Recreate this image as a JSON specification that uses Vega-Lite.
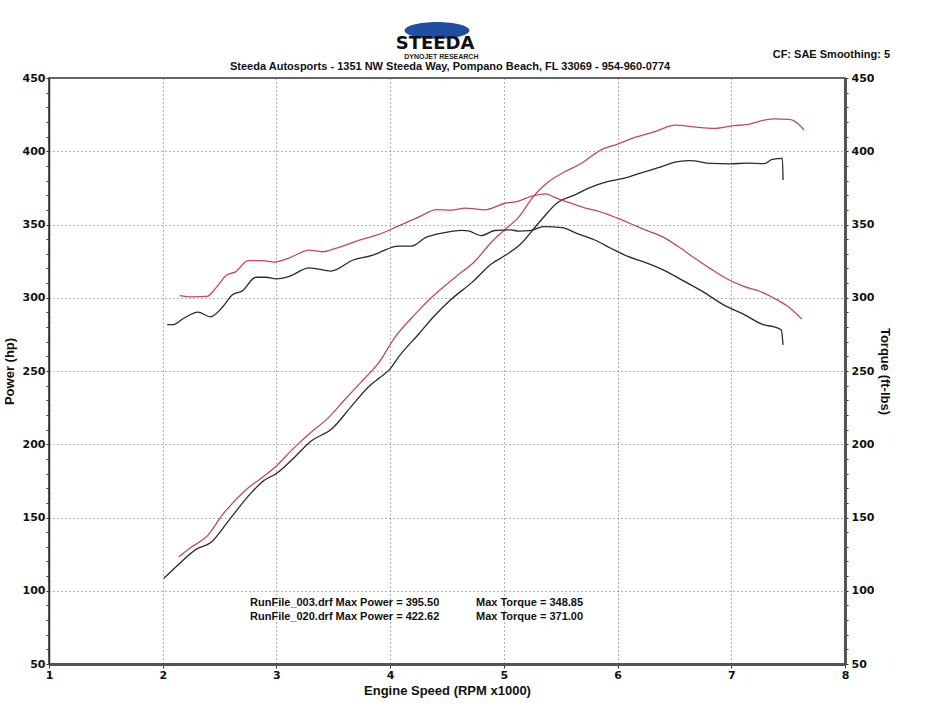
{
  "$schema": "https://vega.github.io/schema/vega-lite/v6.json",
  "description": "Steeda dyno sheet: power and torque for two run files",
  "width": 796,
  "height": 586,
  "autosize": {"type": "none"},
  "padding": {"left": 49, "top": 78, "right": 85, "bottom": 56},
  "background": "white",
  "datasets": {
    "dyno": [
      {"run": "003", "measure": "Power", "rpm": 2.01, "value": 108.5},
      {"run": "003", "measure": "Power", "rpm": 2.12, "value": 116.6},
      {"run": "003", "measure": "Power", "rpm": 2.3, "value": 128.6},
      {"run": "003", "measure": "Power", "rpm": 2.42, "value": 132.8},
      {"run": "003", "measure": "Power", "rpm": 2.59, "value": 148.9},
      {"run": "003", "measure": "Power", "rpm": 2.77, "value": 166.1},
      {"run": "003", "measure": "Power", "rpm": 2.89, "value": 175.3},
      {"run": "003", "measure": "Power", "rpm": 3.0, "value": 180},
      {"run": "003", "measure": "Power", "rpm": 3.15, "value": 190.4},
      {"run": "003", "measure": "Power", "rpm": 3.3, "value": 201.9},
      {"run": "003", "measure": "Power", "rpm": 3.49, "value": 210.7},
      {"run": "003", "measure": "Power", "rpm": 3.65, "value": 225},
      {"run": "003", "measure": "Power", "rpm": 3.82, "value": 239.9},
      {"run": "003", "measure": "Power", "rpm": 3.91, "value": 245.5},
      {"run": "003", "measure": "Power", "rpm": 4.0, "value": 251.5},
      {"run": "003", "measure": "Power", "rpm": 4.07, "value": 259.2},
      {"run": "003", "measure": "Power", "rpm": 4.25, "value": 275.1},
      {"run": "003", "measure": "Power", "rpm": 4.39, "value": 287.7},
      {"run": "003", "measure": "Power", "rpm": 4.54, "value": 299.1},
      {"run": "003", "measure": "Power", "rpm": 4.72, "value": 310.5},
      {"run": "003", "measure": "Power", "rpm": 4.89, "value": 323.1},
      {"run": "003", "measure": "Power", "rpm": 5.01, "value": 328.8},
      {"run": "003", "measure": "Power", "rpm": 5.15, "value": 336.9},
      {"run": "003", "measure": "Power", "rpm": 5.3, "value": 350.5},
      {"run": "003", "measure": "Power", "rpm": 5.48, "value": 365.4},
      {"run": "003", "measure": "Power", "rpm": 5.62, "value": 370},
      {"run": "003", "measure": "Power", "rpm": 5.74, "value": 374.6},
      {"run": "003", "measure": "Power", "rpm": 5.91, "value": 379.2},
      {"run": "003", "measure": "Power", "rpm": 6.06, "value": 381.6},
      {"run": "003", "measure": "Power", "rpm": 6.2, "value": 385.1},
      {"run": "003", "measure": "Power", "rpm": 6.35, "value": 388.6},
      {"run": "003", "measure": "Power", "rpm": 6.53, "value": 392.9},
      {"run": "003", "measure": "Power", "rpm": 6.64, "value": 393.6},
      {"run": "003", "measure": "Power", "rpm": 6.82, "value": 391.7},
      {"run": "003", "measure": "Power", "rpm": 6.99, "value": 391.4},
      {"run": "003", "measure": "Power", "rpm": 7.14, "value": 391.9},
      {"run": "003", "measure": "Power", "rpm": 7.29, "value": 391.5},
      {"run": "003", "measure": "Power", "rpm": 7.36, "value": 394.4},
      {"run": "003", "measure": "Power", "rpm": 7.45, "value": 395.2},
      {"run": "003", "measure": "Power", "rpm": 7.455, "value": 380.3},
      {"run": "020", "measure": "Power", "rpm": 2.14, "value": 123},
      {"run": "020", "measure": "Power", "rpm": 2.24, "value": 129.2},
      {"run": "020", "measure": "Power", "rpm": 2.39, "value": 137.3},
      {"run": "020", "measure": "Power", "rpm": 2.53, "value": 152.3},
      {"run": "020", "measure": "Power", "rpm": 2.74, "value": 169.5},
      {"run": "020", "measure": "Power", "rpm": 2.86, "value": 176.5},
      {"run": "020", "measure": "Power", "rpm": 2.99, "value": 184.5},
      {"run": "020", "measure": "Power", "rpm": 3.15, "value": 197.2},
      {"run": "020", "measure": "Power", "rpm": 3.33, "value": 209.9},
      {"run": "020", "measure": "Power", "rpm": 3.44, "value": 216.8},
      {"run": "020", "measure": "Power", "rpm": 3.59, "value": 229.5},
      {"run": "020", "measure": "Power", "rpm": 3.74, "value": 242.1},
      {"run": "020", "measure": "Power", "rpm": 3.9, "value": 255.7},
      {"run": "020", "measure": "Power", "rpm": 4.04, "value": 272.8},
      {"run": "020", "measure": "Power", "rpm": 4.22, "value": 288.8},
      {"run": "020", "measure": "Power", "rpm": 4.38, "value": 301.3},
      {"run": "020", "measure": "Power", "rpm": 4.57, "value": 313.9},
      {"run": "020", "measure": "Power", "rpm": 4.75, "value": 325.3},
      {"run": "020", "measure": "Power", "rpm": 4.89, "value": 337.9},
      {"run": "020", "measure": "Power", "rpm": 5.0, "value": 345.9},
      {"run": "020", "measure": "Power", "rpm": 5.13, "value": 355},
      {"run": "020", "measure": "Power", "rpm": 5.26, "value": 369.2},
      {"run": "020", "measure": "Power", "rpm": 5.39, "value": 379},
      {"run": "020", "measure": "Power", "rpm": 5.53, "value": 385.8},
      {"run": "020", "measure": "Power", "rpm": 5.68, "value": 391.6},
      {"run": "020", "measure": "Power", "rpm": 5.85, "value": 400.8},
      {"run": "020", "measure": "Power", "rpm": 6.0, "value": 404.8},
      {"run": "020", "measure": "Power", "rpm": 6.15, "value": 409.4},
      {"run": "020", "measure": "Power", "rpm": 6.32, "value": 413.2},
      {"run": "020", "measure": "Power", "rpm": 6.51, "value": 417.8},
      {"run": "020", "measure": "Power", "rpm": 6.67, "value": 416.6},
      {"run": "020", "measure": "Power", "rpm": 6.85, "value": 415.6},
      {"run": "020", "measure": "Power", "rpm": 7.02, "value": 417.5},
      {"run": "020", "measure": "Power", "rpm": 7.14, "value": 418.2},
      {"run": "020", "measure": "Power", "rpm": 7.26, "value": 420.7},
      {"run": "020", "measure": "Power", "rpm": 7.37, "value": 422.1},
      {"run": "020", "measure": "Power", "rpm": 7.51, "value": 421.8},
      {"run": "020", "measure": "Power", "rpm": 7.59, "value": 418.6},
      {"run": "020", "measure": "Power", "rpm": 7.64, "value": 414.5},
      {"run": "003", "measure": "Torque", "rpm": 2.04, "value": 281.6},
      {"run": "003", "measure": "Torque", "rpm": 2.09, "value": 281.6},
      {"run": "003", "measure": "Torque", "rpm": 2.175, "value": 285.5},
      {"run": "003", "measure": "Torque", "rpm": 2.31, "value": 290.2},
      {"run": "003", "measure": "Torque", "rpm": 2.42, "value": 287},
      {"run": "003", "measure": "Torque", "rpm": 2.53, "value": 294},
      {"run": "003", "measure": "Torque", "rpm": 2.61, "value": 301.8},
      {"run": "003", "measure": "Torque", "rpm": 2.7, "value": 304.7},
      {"run": "003", "measure": "Torque", "rpm": 2.82, "value": 314},
      {"run": "003", "measure": "Torque", "rpm": 2.91, "value": 314},
      {"run": "003", "measure": "Torque", "rpm": 3.0, "value": 312.9},
      {"run": "003", "measure": "Torque", "rpm": 3.11, "value": 314.5},
      {"run": "003", "measure": "Torque", "rpm": 3.29, "value": 320.4},
      {"run": "003", "measure": "Torque", "rpm": 3.48, "value": 318.2},
      {"run": "003", "measure": "Torque", "rpm": 3.67, "value": 325.6},
      {"run": "003", "measure": "Torque", "rpm": 3.84, "value": 328.9},
      {"run": "003", "measure": "Torque", "rpm": 3.9, "value": 330.7},
      {"run": "003", "measure": "Torque", "rpm": 4.07, "value": 335.3},
      {"run": "003", "measure": "Torque", "rpm": 4.19, "value": 335.3},
      {"run": "003", "measure": "Torque", "rpm": 4.31, "value": 341},
      {"run": "003", "measure": "Torque", "rpm": 4.48, "value": 344.5},
      {"run": "003", "measure": "Torque", "rpm": 4.63, "value": 346},
      {"run": "003", "measure": "Torque", "rpm": 4.69, "value": 345.6},
      {"run": "003", "measure": "Torque", "rpm": 4.8, "value": 342.4},
      {"run": "003", "measure": "Torque", "rpm": 4.92, "value": 345.9},
      {"run": "003", "measure": "Torque", "rpm": 5.06, "value": 346.3},
      {"run": "003", "measure": "Torque", "rpm": 5.13, "value": 345.5},
      {"run": "003", "measure": "Torque", "rpm": 5.23, "value": 345.8},
      {"run": "003", "measure": "Torque", "rpm": 5.35, "value": 348.5},
      {"run": "003", "measure": "Torque", "rpm": 5.51, "value": 347.8},
      {"run": "003", "measure": "Torque", "rpm": 5.64, "value": 344},
      {"run": "003", "measure": "Torque", "rpm": 5.8, "value": 339.4},
      {"run": "003", "measure": "Torque", "rpm": 5.94, "value": 333.8},
      {"run": "003", "measure": "Torque", "rpm": 6.09, "value": 328.2},
      {"run": "003", "measure": "Torque", "rpm": 6.23, "value": 324.5},
      {"run": "003", "measure": "Torque", "rpm": 6.41, "value": 318.7},
      {"run": "003", "measure": "Torque", "rpm": 6.58, "value": 311.5},
      {"run": "003", "measure": "Torque", "rpm": 6.76, "value": 303.7},
      {"run": "003", "measure": "Torque", "rpm": 6.94, "value": 294.8},
      {"run": "003", "measure": "Torque", "rpm": 7.11, "value": 288.7},
      {"run": "003", "measure": "Torque", "rpm": 7.29, "value": 281.4},
      {"run": "003", "measure": "Torque", "rpm": 7.37, "value": 280.3},
      {"run": "003", "measure": "Torque", "rpm": 7.44, "value": 278},
      {"run": "003", "measure": "Torque", "rpm": 7.455, "value": 267.8},
      {"run": "020", "measure": "Torque", "rpm": 2.15, "value": 301.5},
      {"run": "020", "measure": "Torque", "rpm": 2.26, "value": 300.6},
      {"run": "020", "measure": "Torque", "rpm": 2.39, "value": 300.9},
      {"run": "020", "measure": "Torque", "rpm": 2.47, "value": 306.9},
      {"run": "020", "measure": "Torque", "rpm": 2.56, "value": 315.4},
      {"run": "020", "measure": "Torque", "rpm": 2.64, "value": 317.7},
      {"run": "020", "measure": "Torque", "rpm": 2.75, "value": 325.3},
      {"run": "020", "measure": "Torque", "rpm": 2.88, "value": 325.4},
      {"run": "020", "measure": "Torque", "rpm": 2.98, "value": 324.3},
      {"run": "020", "measure": "Torque", "rpm": 3.11, "value": 327.1},
      {"run": "020", "measure": "Torque", "rpm": 3.29, "value": 332.5},
      {"run": "020", "measure": "Torque", "rpm": 3.4, "value": 331.4},
      {"run": "020", "measure": "Torque", "rpm": 3.52, "value": 333.7},
      {"run": "020", "measure": "Torque", "rpm": 3.73, "value": 339.3},
      {"run": "020", "measure": "Torque", "rpm": 3.9, "value": 343.2},
      {"run": "020", "measure": "Torque", "rpm": 4.07, "value": 348.9},
      {"run": "020", "measure": "Torque", "rpm": 4.25, "value": 355.1},
      {"run": "020", "measure": "Torque", "rpm": 4.41, "value": 360.2},
      {"run": "020", "measure": "Torque", "rpm": 4.54, "value": 359.8},
      {"run": "020", "measure": "Torque", "rpm": 4.66, "value": 361.2},
      {"run": "020", "measure": "Torque", "rpm": 4.83, "value": 360},
      {"run": "020", "measure": "Torque", "rpm": 5.01, "value": 364.5},
      {"run": "020", "measure": "Torque", "rpm": 5.13, "value": 366},
      {"run": "020", "measure": "Torque", "rpm": 5.24, "value": 369.2},
      {"run": "020", "measure": "Torque", "rpm": 5.37, "value": 370.9},
      {"run": "020", "measure": "Torque", "rpm": 5.44, "value": 368.7},
      {"run": "020", "measure": "Torque", "rpm": 5.56, "value": 365.3},
      {"run": "020", "measure": "Torque", "rpm": 5.71, "value": 361.4},
      {"run": "020", "measure": "Torque", "rpm": 5.85, "value": 358.7},
      {"run": "020", "measure": "Torque", "rpm": 6.0, "value": 354.3},
      {"run": "020", "measure": "Torque", "rpm": 6.15, "value": 349.4},
      {"run": "020", "measure": "Torque", "rpm": 6.26, "value": 345.8},
      {"run": "020", "measure": "Torque", "rpm": 6.41, "value": 341},
      {"run": "020", "measure": "Torque", "rpm": 6.53, "value": 335.1},
      {"run": "020", "measure": "Torque", "rpm": 6.67, "value": 327.5},
      {"run": "020", "measure": "Torque", "rpm": 6.82, "value": 319.7},
      {"run": "020", "measure": "Torque", "rpm": 6.96, "value": 313},
      {"run": "020", "measure": "Torque", "rpm": 7.11, "value": 307.8},
      {"run": "020", "measure": "Torque", "rpm": 7.26, "value": 304.1},
      {"run": "020", "measure": "Torque", "rpm": 7.37, "value": 300},
      {"run": "020", "measure": "Torque", "rpm": 7.49, "value": 294.5},
      {"run": "020", "measure": "Torque", "rpm": 7.62, "value": 285.5}
    ]
  },
  "data": {"name": "dyno"},
  "layer": [
    {
      "layer": [
        {
          "transform": [{"filter": "datum.measure === 'Power'"}],
          "mark": {"type": "line", "strokeWidth": 1.3, "interpolate": "monotone"},
          "encoding": {
            "x": {
              "field": "rpm",
              "type": "quantitative",
              "scale": {"domain": [1, 8], "nice": false, "zero": false},
              "axis": {
                "title": "Engine Speed (RPM x1000)",
                "tickCount": 40,
                "format": "d",
                "labelExpr": "datum.value % 1 === 0 ? datum.label : ''",
                "labelOverlap": false,
                "labelFlush": false,
                "tickSize": 4,
                "labelPadding": 1,
                "titlePadding": 4,
                "domainWidth": 3,
                "domainColor": "#555555",
                "grid": true,
                "gridOpacity": {"condition": {"test": "datum.value % 1 === 0 && datum.value > 1 && datum.value < 8", "value": 1}, "value": 0}
              }
            },
            "y": {
              "field": "value",
              "type": "quantitative",
              "scale": {"domain": [50, 450], "nice": false, "zero": false},
              "axis": {
                "title": "Power (hp)",
                "orient": "left",
                "tickCount": 45,
                "format": "d",
                "labelExpr": "datum.value % 50 === 0 ? datum.label : ''",
                "labelOverlap": false,
                "labelFlush": false,
                "tickSize": 3,
                "labelPadding": 1,
                "titlePadding": 6,
                "domainWidth": 1.5,
                "domainColor": "#333333",
                "grid": true,
                "gridOpacity": {"condition": {"test": "datum.value % 50 === 0 && datum.value > 50 && datum.value < 450", "value": 1}, "value": 0}
              }
            },
            "color": {
              "field": "run",
              "type": "nominal",
              "scale": {"domain": ["003", "020"], "range": ["#2b2b2b", "#c04a5c"]},
              "legend": null
            }
          }
        },
        {
          "data": {"values": [{}]},
          "mark": {"type": "point", "filled": true, "color": "#1f4ea3", "opacity": 1, "shape": "M -1 0 A 1 0.26 0 1 1 1 0 A 1 0.26 0 1 1 -1 0 Z", "size": 4200},
          "encoding": {
            "x": {"datum": 4.412, "type": "quantitative", "scale": {"domain": [1, 8]}},
            "y": {"datum": 482.5, "type": "quantitative", "scale": {"domain": [50, 450]}}
          }
        },
        {
          "data": {"values": [{}]},
          "mark": {"type": "text", "text": "STEEDA", "font": "DejaVu Sans", "fontWeight": "bold", "fontSize": 18, "align": "center", "baseline": "middle", "color": "#111111"},
          "encoding": {
            "x": {"datum": 4.395, "type": "quantitative", "scale": {"domain": [1, 8]}},
            "y": {"datum": 473.2, "type": "quantitative", "scale": {"domain": [50, 450]}}
          }
        },
        {
          "data": {"values": [{}]},
          "mark": {"type": "text", "text": "DYNOJET RESEARCH", "font": "Liberation Sans", "fontWeight": "bold", "fontSize": 7, "align": "center", "baseline": "middle", "color": "#222222"},
          "encoding": {
            "x": {"datum": 4.45, "type": "quantitative", "scale": {"domain": [1, 8]}},
            "y": {"datum": 464.6, "type": "quantitative", "scale": {"domain": [50, 450]}}
          }
        },
        {
          "data": {"values": [{}]},
          "mark": {"type": "text", "text": "Steeda Autosports - 1351 NW Steeda Way, Pompano Beach, FL 33069 - 954-960-0774", "font": "Liberation Sans", "fontWeight": "bold", "fontSize": 11, "align": "center", "baseline": "middle", "color": "#111111"},
          "encoding": {
            "x": {"datum": 4.527, "type": "quantitative", "scale": {"domain": [1, 8]}},
            "y": {"datum": 457.8, "type": "quantitative", "scale": {"domain": [50, 450]}}
          }
        },
        {
          "data": {"values": [{}]},
          "mark": {"type": "text", "text": "CF: SAE  Smoothing: 5", "font": "Liberation Sans", "fontWeight": "bold", "fontSize": 11, "align": "right", "baseline": "middle", "color": "#111111"},
          "encoding": {
            "x": {"datum": 8.396, "type": "quantitative", "scale": {"domain": [1, 8]}},
            "y": {"datum": 465.7, "type": "quantitative", "scale": {"domain": [50, 450]}}
          }
        },
        {
          "data": {"values": [{}]},
          "mark": {"type": "text", "text": "RunFile_003.drf Max Power = 395.50", "font": "Liberation Sans", "fontWeight": "bold", "fontSize": 11, "align": "left", "baseline": "middle", "color": "#111111"},
          "encoding": {
            "x": {"datum": 2.768, "type": "quantitative", "scale": {"domain": [1, 8]}},
            "y": {"datum": 91.6, "type": "quantitative", "scale": {"domain": [50, 450]}}
          }
        },
        {
          "data": {"values": [{}]},
          "mark": {"type": "text", "text": "RunFile_020.drf Max Power = 422.62", "font": "Liberation Sans", "fontWeight": "bold", "fontSize": 11, "align": "left", "baseline": "middle", "color": "#111111"},
          "encoding": {
            "x": {"datum": 2.768, "type": "quantitative", "scale": {"domain": [1, 8]}},
            "y": {"datum": 82.1, "type": "quantitative", "scale": {"domain": [50, 450]}}
          }
        },
        {
          "data": {"values": [{}]},
          "mark": {"type": "text", "text": "Max Torque = 348.85", "font": "Liberation Sans", "fontWeight": "bold", "fontSize": 11, "align": "left", "baseline": "middle", "color": "#111111"},
          "encoding": {
            "x": {"datum": 4.755, "type": "quantitative", "scale": {"domain": [1, 8]}},
            "y": {"datum": 91.6, "type": "quantitative", "scale": {"domain": [50, 450]}}
          }
        },
        {
          "data": {"values": [{}]},
          "mark": {"type": "text", "text": "Max Torque = 371.00", "font": "Liberation Sans", "fontWeight": "bold", "fontSize": 11, "align": "left", "baseline": "middle", "color": "#111111"},
          "encoding": {
            "x": {"datum": 4.755, "type": "quantitative", "scale": {"domain": [1, 8]}},
            "y": {"datum": 82.1, "type": "quantitative", "scale": {"domain": [50, 450]}}
          }
        }
      ]
    },
    {
      "transform": [{"filter": "datum.measure === 'Torque'"}],
      "mark": {"type": "line", "strokeWidth": 1.3, "interpolate": "monotone"},
      "encoding": {
        "x": {
          "field": "rpm",
          "type": "quantitative",
          "scale": {"domain": [1, 8], "nice": false, "zero": false},
          "axis": {
            "title": "Engine Speed (RPM x1000)",
            "tickCount": 40,
            "format": "d",
            "labelExpr": "datum.value % 1 === 0 ? datum.label : ''",
            "labelOverlap": false,
            "labelFlush": false,
            "tickSize": 4,
            "labelPadding": 1,
            "titlePadding": 4,
            "domainWidth": 3,
            "domainColor": "#555555",
            "grid": true,
            "gridOpacity": {"condition": {"test": "datum.value % 1 === 0 && datum.value > 1 && datum.value < 8", "value": 1}, "value": 0}
          }
        },
        "y": {
          "field": "value",
          "type": "quantitative",
          "scale": {"domain": [50, 450], "nice": false, "zero": false},
          "axis": {
            "title": "Torque (ft-lbs)",
            "orient": "right",
            "tickCount": 45,
            "format": "d",
            "labelExpr": "datum.value % 50 === 0 ? datum.label : ''",
            "labelOverlap": false,
            "labelFlush": false,
            "tickSize": 3,
            "labelPadding": 3,
            "titlePadding": 4,
            "domainWidth": 3,
            "domainColor": "#555555",
            "grid": false
          }
        },
        "color": {
          "field": "run",
          "type": "nominal",
          "scale": {"domain": ["003", "020"], "range": ["#2b2b2b", "#c04a5c"]},
          "legend": null
        }
      }
    }
  ],
  "resolve": {"scale": {"y": "independent"}, "axis": {"y": "independent"}},
  "config": {
    "view": {"stroke": "#333333", "strokeWidth": 1.5},
    "axis": {
      "labelFont": "DejaVu Sans",
      "labelFontWeight": "bold",
      "labelFontSize": 11,
      "labelColor": "#111111",
      "titleFont": "Liberation Sans",
      "titleFontWeight": "bold",
      "titleFontSize": 13,
      "titleColor": "#111111",
      "tickColor": "#333333",
      "tickWidth": 1,
      "gridColor": "#666666",
      "gridDash": [1, 3],
      "gridWidth": 1
    }
  }
}
